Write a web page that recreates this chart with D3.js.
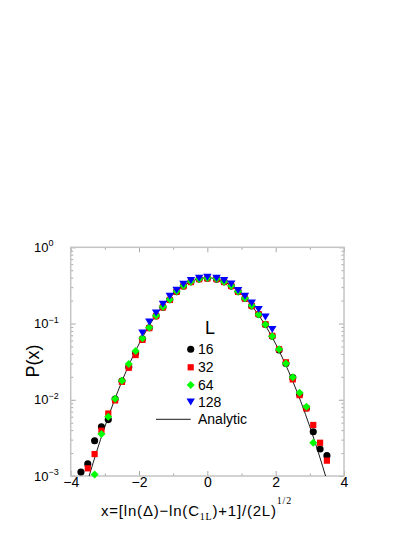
<!DOCTYPE html>
<html>
<head>
<meta charset="utf-8">
<script src="https://cdn.jsdelivr.net/npm/d3@7"></script>
<style>
  body { margin: 0; background: #fff; }
  svg { display: block; font-family: "Liberation Sans", Arial, sans-serif; }
</style>
</head>
<body>
<svg width="415" height="537"></svg>
<script>
// P(x) for each system size L
const x16 = [-3.7,-3.5,-3.3,-3.1,-2.9,-2.7,-2.5,-2.3,-2.1,-1.9,-1.7,-1.5,-1.3,-1.1,-0.9,-0.7,
             -0.48,-0.24,0,0.27,0.49,
             0.7,0.9,1.1,1.3,1.5,1.7,1.9,2.1,2.3,2.5,2.7,2.9,3.1,3.3,3.5];
const p16 = [0.00113,0.00144,0.0029,0.00443,0.0055,0.0102,0.0176,0.027,0.041,0.063,0.088,0.126,0.164,0.205,0.262,0.31,
             0.352,0.383,0.392,0.382,0.352,
             0.31,0.262,0.213,0.17,0.132,0.097,0.068,0.045,0.03,0.0195,0.0118,0.0078,0.00381,0.00226,0.00185];

const x32 = [-3.5,-3.3,-3.1,-2.9,-2.7,-2.5,-2.3,-2.1,-1.9,-1.7,-1.5,-1.3,-1.1,-0.9,-0.7,
             -0.48,-0.24,0,0.27,0.49,
             0.7,0.9,1.1,1.3,1.5,1.7,1.9,2.1,2.3,2.5,2.7,2.9,3.1,3.3,3.5];
const p32 = [0.00126,0.00194,0.00393,0.0066,0.0098,0.0172,0.0263,0.0386,0.061,0.087,0.125,0.163,0.204,0.262,0.308,
             0.35,0.382,0.39,0.383,0.35,
             0.31,0.26,0.213,0.17,0.133,0.098,0.069,0.046,0.031,0.0185,0.0115,0.0077,0.00467,0.00273,0.00159];

const x64 = [-3.3,-3.1,-2.9,-2.7,-2.5,-2.3,-2.1,-1.9,-1.7,-1.5,-1.3,-1.1,-0.9,-0.7,
             -0.48,-0.24,0,0.27,0.49,
             0.7,0.9,1.1,1.3,1.5,1.7,1.9,2.1,2.3,2.5,2.7,2.9,3.1];
const p64 = [0.00105,0.00356,0.006,0.0103,0.0178,0.0294,0.0436,0.064,0.089,0.127,0.166,0.207,0.265,0.312,
             0.355,0.385,0.395,0.386,0.354,
             0.312,0.263,0.215,0.172,0.131,0.097,0.068,0.046,0.03,0.0197,0.0124,0.0081,0.00273];

const x128 = [-1.9,-1.7,-1.5,-1.3,-1.1,-0.9,-0.7,
              -0.48,-0.24,0,0.27,0.49,
              0.7,0.9,1.1,1.3,1.5,1.7,1.9];
const p128 = [0.0758,0.1057,0.1387,0.18,0.23,0.275,0.33,
              0.369,0.396,0.408,0.396,0.369,
              0.333,0.274,0.23,0.1876,0.1538,0.123,0.084];

// analytic curve, sampled
const xFit = [-3.5,-3.25,-3,-2.75,-2.5,-2.25,-2,-1.75,-1.5,-1.25,-1,-0.75,-0.5,-0.25,0,
              0.25,0.5,0.75,1,1.25,1.5,1.75,2,2.25,2.5,2.75,3,3.25,3.5];
const pFit = [0.000873,0.00203,0.00443,0.00909,0.0175,0.0317,0.054,0.0863,0.1295,0.1826,0.242,0.3011,0.3521,0.3867,0.3989,
              0.3867,0.3521,0.3011,0.242,0.1826,0.1295,0.0863,0.054,0.0317,0.0175,0.00909,0.00443,0.00203,0.000873];

const legendLabels = ["16", "32", "64", "128"];
const xMajor = [-4, -2, 0, 2, 4];
const xMinor = [-3, -1, 1, 3];
const yExp = [0, -1, -2, -3];

const svg = d3.select("svg");
const plotL = 70.7, plotR = 344, plotT = 247.3, plotB = 476;

const x = d3.scaleLinear().domain([-4, 4]).range([plotL, plotR]);
const y = d3.scaleLog().domain([1e-3, 1]).range([plotB, plotT]);

const frameColor = "#c4c4c4";
const tickColor = "#a8a8a8";

// minor log ticks 2..9 per decade
const yMinor = [];
[-3, -2, -1].forEach(e => { for (let k = 2; k <= 9; k++) yMinor.push(k * Math.pow(10, e)); });
const yMajor = yExp.map(e => Math.pow(10, e));

function styleAxis(g) {
  g.select(".domain").remove();
  g.selectAll(".tick line").attr("stroke", tickColor).attr("stroke-width", 1);
}

// ticks on all four sides, pointing inward
svg.append("g").attr("transform", `translate(0,${plotB})`)
  .call(d3.axisBottom(x).tickValues(xMajor).tickSizeInner(-5).tickSizeOuter(0).tickPadding(1)
    .tickFormat(d => d < 0 ? "\u2212" + (-d) : d))
  .call(styleAxis)
  .call(g => g.selectAll("text").attr("fill", "#000").attr("font-size", 14)
    .attr("font-family", "Liberation Sans, Arial, sans-serif"));
svg.append("g").attr("transform", `translate(0,${plotB})`)
  .call(d3.axisBottom(x).tickValues(xMinor).tickSize(-2.5).tickFormat(""))
  .call(styleAxis);
svg.append("g").attr("transform", `translate(0,${plotT})`)
  .call(d3.axisTop(x).tickValues(xMajor).tickSize(-5).tickFormat(""))
  .call(styleAxis);
svg.append("g").attr("transform", `translate(0,${plotT})`)
  .call(d3.axisTop(x).tickValues(xMinor).tickSize(-2.5).tickFormat(""))
  .call(styleAxis);

svg.append("g").attr("transform", `translate(${plotL},0)`)
  .call(d3.axisLeft(y).tickValues(yMajor).tickSize(-5).tickFormat(""))
  .call(styleAxis);
svg.append("g").attr("transform", `translate(${plotL},0)`)
  .call(d3.axisLeft(y).tickValues(yMinor).tickSize(-2.5).tickFormat(""))
  .call(styleAxis);
svg.append("g").attr("transform", `translate(${plotR},0)`)
  .call(d3.axisRight(y).tickValues(yMajor).tickSize(-5).tickFormat(""))
  .call(styleAxis);
svg.append("g").attr("transform", `translate(${plotR},0)`)
  .call(d3.axisRight(y).tickValues(yMinor).tickSize(-2.5).tickFormat(""))
  .call(styleAxis);

// frame
svg.append("rect")
  .attr("x", plotL).attr("y", plotT)
  .attr("width", plotR - plotL).attr("height", plotB - plotT)
  .attr("fill", "none").attr("stroke", frameColor).attr("stroke-width", 1.5);

// y tick labels 10^n
const yLab = svg.append("g").attr("font-size", 13).attr("fill", "#000");
yExp.forEach(e => {
  const t = yLab.append("text").attr("x", 34).attr("y", y(Math.pow(10, e)) + 4.6);
  t.append("tspan").text("10");
  t.append("tspan").attr("font-size", 9).attr("dy", -5.5)
    .text(e < 0 ? "\u2212" + (-e) : e);
});

// analytic line
svg.append("clipPath").attr("id", "plotclip")
  .append("rect").attr("x", plotL).attr("y", plotT)
  .attr("width", plotR - plotL).attr("height", plotB - plotT);

const fitLine = d3.line()
  .x((d, i) => x(xFit[i]))
  .y(d => y(d))
  .curve(d3.curveNatural);

svg.append("path")
  .attr("clip-path", "url(#plotclip)")
  .attr("d", fitLine(pFit))
  .attr("fill", "none").attr("stroke", "#000").attr("stroke-width", 0.9);

// marker shapes
function marker(type) {
  if (type === "circle") return d3.symbol(d3.symbolCircle, 40)();
  if (type === "square") return "M-3.1,-3.1H3.1V3.1H-3.1Z";
  if (type === "diamond") return "M0,-4L4,0L0,4L-4,0Z";
  return "M-4.2,-3.2H4.2L0,3.8Z"; // triangle down
}

const series = [
  { xs: x16,  ps: p16,  color: "#000000", shape: "circle" },
  { xs: x32,  ps: p32,  color: "#ff0000", shape: "square" },
  { xs: x64,  ps: p64,  color: "#00ff00", shape: "diamond" },
  { xs: x128, ps: p128, color: "#0000ff", shape: "triangle" }
];

series.forEach(s => {
  svg.append("g")
    .selectAll("path")
    .data(s.ps)
    .join("path")
    .attr("d", marker(s.shape))
    .attr("transform", (d, i) => `translate(${x(s.xs[i])},${y(d)})`)
    .attr("fill", s.color);
});

// legend
const leg = svg.append("g");
leg.append("text").attr("x", 205).attr("y", 333.5)
  .attr("font-size", 18).text("L");
const rowY = [349.3, 367.3, 385, 401.7];
series.forEach((s, i) => {
  leg.append("path").attr("d", marker(s.shape))
    .attr("transform", `translate(190.7,${rowY[i]})`)
    .attr("fill", s.color);
  leg.append("text").attr("x", 198).attr("y", rowY[i] + 5)
    .attr("font-size", 14).text(legendLabels[i]);
});
leg.append("line").attr("x1", 156).attr("x2", 190.7)
  .attr("y1", 419.3).attr("y2", 419.3)
  .attr("stroke", "#000").attr("stroke-width", 0.9);
leg.append("text").attr("x", 198).attr("y", 424.3)
  .attr("font-size", 14).text("Analytic");

// axis titles
svg.append("text")
  .attr("transform", "translate(39,361) rotate(-90)")
  .attr("text-anchor", "middle").attr("font-size", 18)
  .text("P(x)");

const xt = svg.append("text").attr("x", 101).attr("y", 515.5)
  .attr("font-size", 15).attr("letter-spacing", 0.8);
xt.append("tspan").text("x=[ln(\u0394)\u2212ln(C");
xt.append("tspan").attr("font-family", "Liberation Serif, Times New Roman, serif")
  .attr("font-size", 10).attr("dy", 4.5).text("1L");
xt.append("tspan").attr("dy", -4.5).text(")+1]/(2L)");
xt.append("tspan").attr("font-family", "Liberation Serif, Times New Roman, serif")
  .attr("font-size", 10).attr("dy", -12).text("1/2");
</script>
</body>
</html>
